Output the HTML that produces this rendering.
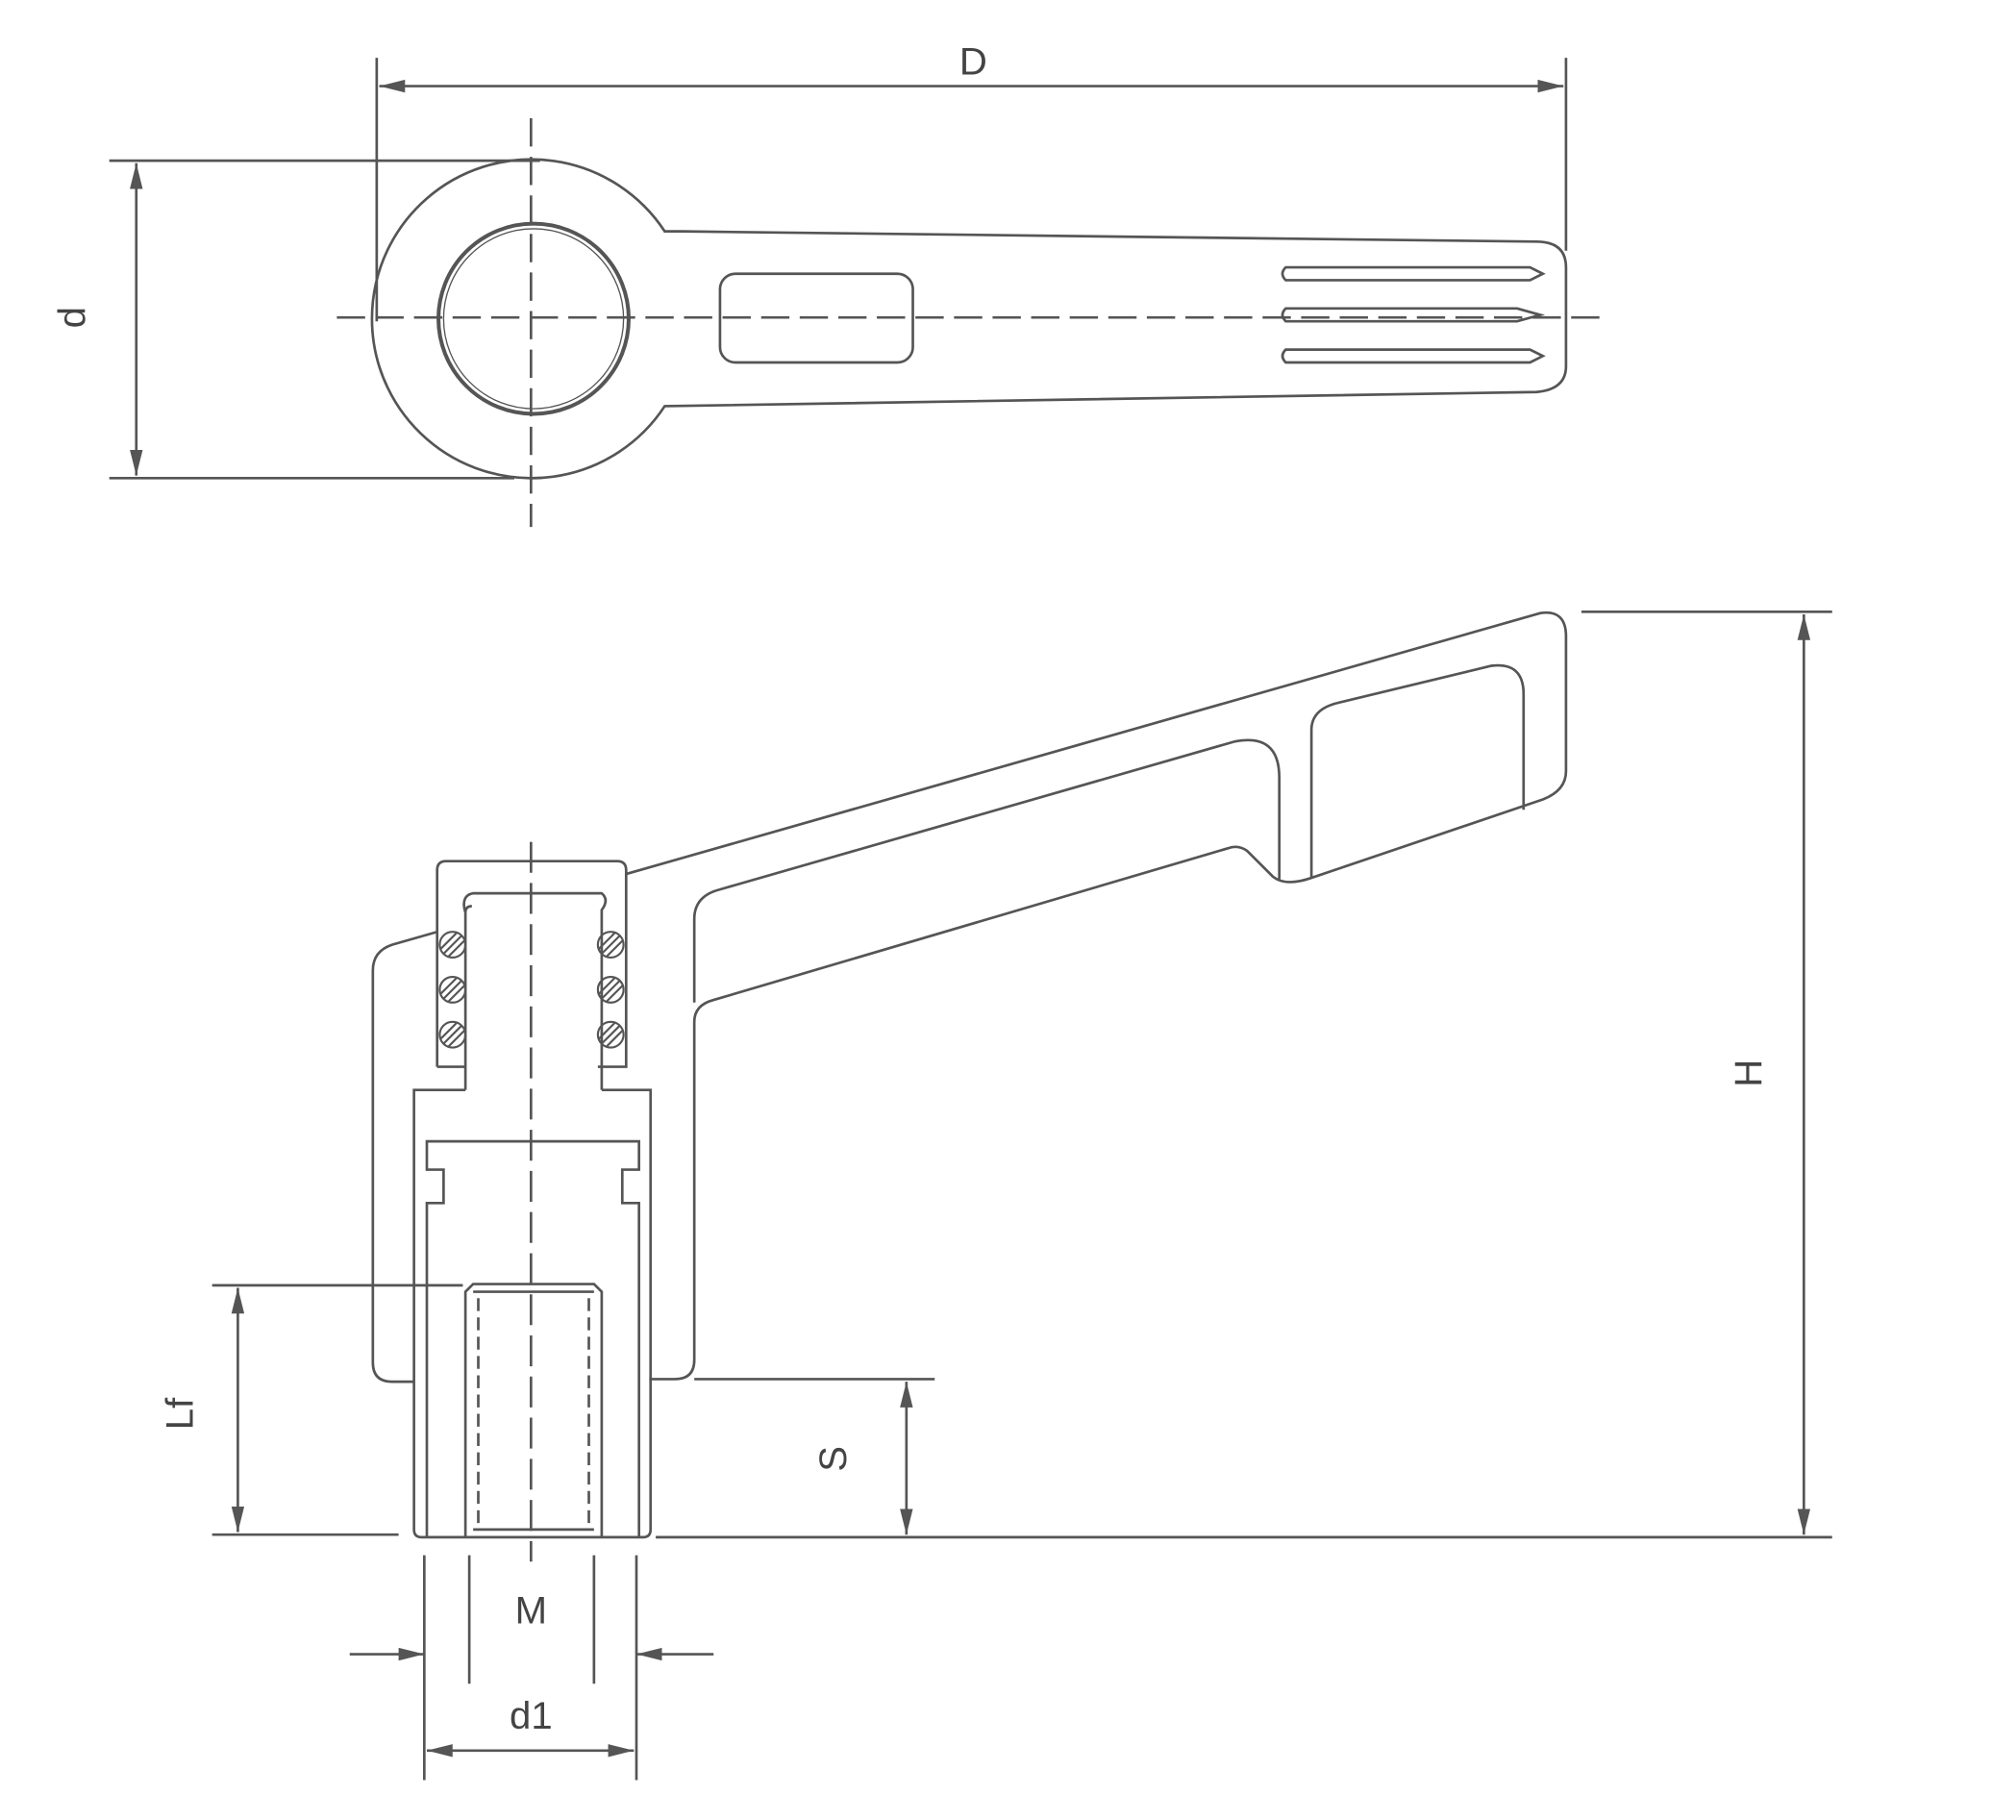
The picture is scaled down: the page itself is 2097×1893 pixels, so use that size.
<!DOCTYPE html>
<html><head><meta charset="utf-8"><style>
html,body{margin:0;padding:0;background:#fff;}
svg{display:block}
text{font-family:"Liberation Sans",sans-serif;fill:#444;font-size:30px}
</style></head><body>
<svg width="2097" height="1893" viewBox="0 0 1568 1416" preserveAspectRatio="none" xmlns="http://www.w3.org/2000/svg">
<defs>
<marker id="a" viewBox="0 0 20 10" refX="20" refY="5" markerWidth="20" markerHeight="10" orient="auto-start-reverse" markerUnits="userSpaceOnUse"><path d="M0,0 L20,5 L0,10 Z" fill="#555"/></marker>
</defs>
<g fill="none" stroke="#555" stroke-width="2">
<line x1="293" y1="45" x2="293" y2="250"/>
<line x1="1218" y1="45" x2="1218" y2="195"/>
<line x1="295" y1="67" x2="1216" y2="67" marker-start="url(#a)" marker-end="url(#a)"/>
<line x1="85" y1="125" x2="420" y2="125"/>
<line x1="85" y1="372" x2="400" y2="372"/>
<line x1="106" y1="127" x2="106" y2="370" marker-start="url(#a)" marker-end="url(#a)"/>
<path d="M517,180 A124,124 0 1 0 517,316 L1195,305 Q1218,303 1218,285 L1218,208 Q1218,188 1195,188 L530,180 Q520,180 517,180 Z"/>
<circle cx="415" cy="248" r="74" stroke-width="3"/>
<circle cx="415" cy="248" r="70" stroke-width="1"/>
<rect x="560" y="213" width="150" height="69" rx="12"/>
<path d="M1000,208 L1190,208 L1200,213 L1190,218 L1000,218 Q995,213 1000,208 Z"/>
<path d="M1000,240 L1180,240 L1198,245 L1180,250 L1000,250 Q995,245 1000,240 Z"/>
<path d="M1000,272 L1190,272 L1200,277 L1190,282 L1000,282 Q995,277 1000,272 Z"/>
<line x1="262" y1="247" x2="1245" y2="247" stroke-dasharray="22,8"/>
<line x1="413" y1="92" x2="413" y2="410" stroke-dasharray="22,8"/>

<path d="M487,680 L1198,477 Q1218,474 1218,495 L1218,600 Q1218,615 1200,622 L1020,683 Q1000,690 990,682 L970,662 Q963,657 955,660 L555,778 Q540,782 540,795 L540,1058 Q540,1073 525,1073 L505,1073"/>
<path d="M540,780 L540,715 Q540,697 560,692 L960,577 Q995,570 995,605 L995,684"/>
<path d="M1020,683 L1020,568 Q1020,552 1040,547 L1160,518 Q1185,515 1185,540 L1185,630"/>
<path d="M340,725 L305,735 Q290,740 290,755 L290,1060 Q290,1075 305,1075 L322,1075"/>
<path d="M340,830 L340,677 Q340,670 347,670 L480,670 Q487,670 487,677 L487,830 L465,830"/>
<path d="M340,830 L362,830"/>
<path d="M362,848 L362,710 Q362,705 367,705 M362,710 Q358,697 368,695 L468,695 Q474,700 468,708 L468,848"/>
<path d="M362,848 L322,848 L322,1190 Q322,1196 328,1196 L500,1196 Q506,1196 506,1190 L506,848 L468,848"/>
<path d="M332,1196 L332,936 L345,936 L345,910 L332,910 L332,888 L497,888 L497,910 L484,910 L484,936 L497,936 L497,1196"/>
<path d="M362,1196 L362,1005 L368,999 L462,999 L468,1005 L468,1196"/>
<line x1="368" y1="1005" x2="462" y2="1005"/>
<line x1="368" y1="1190" x2="462" y2="1190"/>
<line x1="372" y1="1010" x2="372" y2="1188" stroke-dasharray="10,5"/>
<line x1="458" y1="1010" x2="458" y2="1188" stroke-dasharray="10,5"/>
<line x1="413" y1="655" x2="413" y2="1215" stroke-dasharray="24,8"/>
<g stroke-width="1.6">
<circle cx="352" cy="735" r="10"/><circle cx="352" cy="770" r="10"/><circle cx="352" cy="805" r="10"/>
<circle cx="475" cy="735" r="10"/><circle cx="475" cy="770" r="10"/><circle cx="475" cy="805" r="10"/>
<path d="M345,742 L359,728 M343,738 L355,726 M349,744 L361,732 M345,777 L359,763 M343,773 L355,761 M349,779 L361,767 M345,812 L359,798 M343,808 L355,796 M349,814 L361,802"/>
<path d="M468,742 L482,728 M466,738 L478,726 M472,744 L484,732 M468,777 L482,763 M466,773 L478,761 M472,779 L484,767 M468,812 L482,798 M466,808 L478,796 M472,814 L484,802"/>
</g>

<line x1="1230" y1="476" x2="1425" y2="476"/>
<line x1="510" y1="1196" x2="1425" y2="1196"/>
<line x1="1403" y1="478" x2="1403" y2="1194" marker-start="url(#a)" marker-end="url(#a)"/>
<line x1="540" y1="1073" x2="727" y2="1073"/>
<line x1="705" y1="1075" x2="705" y2="1194" marker-start="url(#a)" marker-end="url(#a)"/>
<line x1="165" y1="1000" x2="360" y2="1000"/>
<line x1="165" y1="1194" x2="310" y2="1194"/>
<line x1="185" y1="1002" x2="185" y2="1192" marker-start="url(#a)" marker-end="url(#a)"/>
<line x1="365" y1="1210" x2="365" y2="1310"/>
<line x1="462" y1="1210" x2="462" y2="1310"/>
<line x1="330" y1="1210" x2="330" y2="1385"/>
<line x1="495" y1="1210" x2="495" y2="1385"/>
<line x1="272" y1="1287" x2="330" y2="1287" marker-end="url(#a)"/>
<line x1="555" y1="1287" x2="495" y2="1287" marker-end="url(#a)"/>
<line x1="332" y1="1362" x2="493" y2="1362" marker-start="url(#a)" marker-end="url(#a)"/>
</g>
<text x="757" y="58" text-anchor="middle">D</text>
<text transform="translate(66,247) rotate(-90)" text-anchor="middle">d</text>
<text transform="translate(1370,835) rotate(-90)" text-anchor="middle">H</text>
<text transform="translate(658,1135) rotate(-90)" text-anchor="middle">S</text>
<text transform="translate(150,1100) rotate(-90)" text-anchor="middle">Lf</text>
<text x="413" y="1263" text-anchor="middle">M</text>
<text x="413" y="1345" text-anchor="middle">d1</text>
</svg>
</body></html>
